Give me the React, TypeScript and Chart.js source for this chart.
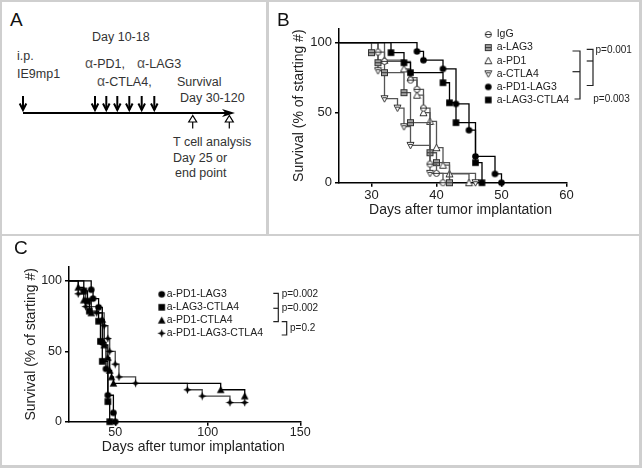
import React, { useEffect, useRef } from 'react';
import { Chart, registerables } from 'chart.js';
Chart.register(...registerables);

const FONT = '"Liberation Sans", Arial, Helvetica, sans-serif';

// ---------- Panel B data (days, % surviving) ----------
const B_X_TICKS = [30, 40, 50, 60];
const Y_TICKS = [0, 50, 100];
const B_LABELS = ['IgG', 'a-LAG3', 'a-PD1', 'a-CTLA4', 'a-PD1-LAG3', 'a-LAG3-CTLA4'];
const IGG_DAYS = [25, 31, 32, 36, 37, 38, 39, 40, 41];
const IGG_SURV = [100, 93.3, 86.7, 73.3, 66.7, 53.3, 13.3, 6.7, 0];
const LAG3_DAYS = [25, 30, 31, 32, 35, 36, 39, 40, 42];
const LAG3_SURV = [100, 92.9, 85.7, 78.6, 64.3, 42.9, 21.4, 14.3, 0];
const PD1_DAYS = [25, 32, 35, 36, 37, 38, 39, 40, 41, 42, 45];
const PD1_SURV = [100, 87.5, 81.3, 75, 62.5, 50, 43.8, 25, 12.5, 6.3, 0];
const CTLA4_DAYS = [25, 31, 32, 34, 35, 36, 39, 46];
const CTLA4_SURV = [100, 80, 60, 53.3, 40, 26.7, 6.7, 0];
const PD1LAG3_DAYS = [25, 37, 38, 41, 43, 45, 46, 49, 50];
const PD1LAG3_SURV = [100, 93.8, 87.5, 81.3, 56.3, 37.5, 18.8, 6.3, 0];
const LAG3CTLA4_DAYS = [25, 33, 35, 36, 41, 42, 43, 46, 47];
const LAG3CTLA4_SURV = [100, 92.9, 85.7, 78.6, 71.4, 57.1, 42.9, 14.3, 0];
const B_PVALUES = ['p=0.001', 'p=0.003'];

// ---------- Panel C data ----------
const C_X_TICKS = [50, 100, 150];
const C_LABELS = ['a-PD1-LAG3', 'a-LAG3-CTLA4', 'a-PD1-CTLA4', 'a-PD1-LAG3-CTLA4'];
const PD1CTLA4_DAYS = [25, 30, 33, 37, 43, 44, 46, 47, 48, 49, 107, 120];
const PD1CTLA4_SURV = [100, 95.5, 86.4, 77.3, 72.7, 54.5, 45.5, 36.4, 31.8, 27.3, 22.7, 18.2];
const TRIPLE_DAYS = [25, 30, 34, 40, 44, 46, 47, 50, 52, 61, 89, 97, 112, 120];
const TRIPLE_SURV = [100, 90.9, 81.8, 77.3, 68.2, 59.1, 50, 40.9, 31.8, 27.3, 22.7, 18.2, 13.6, 13.6];
const C_PVALUES = ['p=0.002', 'p=0.002', 'p=0.2'];

const X_TITLE = 'Days after tumor implantation';
const Y_TITLE = 'Survival (% of starting #)';

function makeMarker(kind: string): HTMLCanvasElement {
  const c = document.createElement('canvas');
  c.width = 9;
  c.height = 9;
  const g = c.getContext('2d')!;
  g.lineWidth = 1;
  const m = 4.5;
  g.strokeStyle = '#333';
  g.fillStyle = '#fff';
  if (kind === 'igg') {
    g.beginPath(); g.arc(m, m, 3, 0, Math.PI * 2); g.fill(); g.stroke();
    g.beginPath(); g.moveTo(1, m); g.lineTo(8, m); g.stroke();
  } else if (kind === 'lag3') {
    g.fillStyle = '#a0a0a0';
    g.fillRect(1.5, 1.5, 6, 6); g.strokeRect(1.5, 1.5, 6, 6);
    g.beginPath(); g.moveTo(1.5, m); g.lineTo(7.5, m); g.stroke();
  } else if (kind === 'pd1') {
    g.beginPath(); g.moveTo(m, 1); g.lineTo(8, 7.5); g.lineTo(1, 7.5); g.closePath(); g.fill(); g.stroke();
  } else if (kind === 'ctla4') {
    g.beginPath(); g.moveTo(1, 1.5); g.lineTo(8, 1.5); g.lineTo(m, 8); g.closePath(); g.fill(); g.stroke();
    g.beginPath(); g.moveTo(2.5, 3.5); g.lineTo(6.5, 3.5); g.stroke();
  } else if (kind === 'pd1lag3') {
    g.fillStyle = '#000';
    g.beginPath(); g.arc(m, m, 3.3, 0, Math.PI * 2); g.fill();
  } else if (kind === 'lag3ctla4') {
    g.fillStyle = '#000';
    g.fillRect(1.2, 1.2, 6.6, 6.6);
  } else if (kind === 'pd1ctla4') {
    g.fillStyle = '#000';
    g.beginPath(); g.moveTo(m, 0.8); g.lineTo(8.3, 7.8); g.lineTo(0.7, 7.8); g.closePath(); g.fill();
  } else if (kind === 'triple') {
    g.fillStyle = '#000';
    g.beginPath();
    const pts = 8;
    for (let i = 0; i < pts; i++) {
      const r = i % 2 === 0 ? 4.2 : 1.6;
      const a = -Math.PI / 2 + (i * Math.PI) / 4;
      const px = m + r * Math.cos(a);
      const py = m + r * Math.sin(a);
      if (i === 0) g.moveTo(px, py); else g.lineTo(px, py);
    }
    g.closePath(); g.fill();
  }
  return c;
}

function km(label: string, days: number[], surv: number[], marker: HTMLCanvasElement, color: string, order: number) {
  return {
    label,
    data: days.map((d, i) => ({ x: d, y: surv[i] })),
    stepped: 'before',
    borderColor: color,
    borderWidth: 1.3,
    fill: false,
    clip: false,
    pointStyle: marker,
    pointRadius: (ctx: any) => (ctx.dataIndex === 0 ? 0 : 3),
    pointHoverRadius: 0,
    order,
  };
}

function axes(xMin: number, xMax: number, xTicks: number[], xHeight: number, yWidth: number, yTitlePad: number, tickSize: number, xPad: number) {
  const common = {
    border: { display: true, color: '#000', width: 1.5 },
    grid: { display: true, drawOnChartArea: false, drawTicks: true, tickLength: 4, color: '#000', lineWidth: 1.5 },
  };
  return {
    x: {
      type: 'linear',
      min: xMin,
      max: xMax,
      afterBuildTicks: (s: any) => { s.ticks = xTicks.map((v) => ({ value: v })); },
      afterFit: (s: any) => { s.height = xHeight; },
      ...common,
      ticks: { color: '#222', font: { size: tickSize, family: FONT }, padding: xPad, maxRotation: 0, autoSkip: false },
    },
    y: {
      type: 'linear',
      min: 0,
      max: 110,
      afterBuildTicks: (s: any) => { s.ticks = Y_TICKS.map((v) => ({ value: v })); },
      afterFit: (s: any) => { s.width = yWidth; },
      ...common,
      ticks: { color: '#222', font: { size: tickSize, family: FONT }, padding: 3, autoSkip: false },
      title: { display: true, text: Y_TITLE, color: '#222', font: { size: 14, family: FONT }, padding: { top: yTitlePad, bottom: 0 } },
    },
  };
}

function line(ctx: CanvasRenderingContext2D, pts: number[]) {
  ctx.beginPath();
  ctx.moveTo(pts[0], pts[1]);
  for (let i = 2; i < pts.length; i += 2) ctx.lineTo(pts[i], pts[i + 1]);
  ctx.stroke();
}

export default function App() {
  const bRef = useRef<HTMLCanvasElement>(null);
  const cRef = useRef<HTMLCanvasElement>(null);

  useEffect(() => {
    Chart.defaults.font.family = FONT;
    const mk = {
      igg: makeMarker('igg'),
      lag3: makeMarker('lag3'),
      pd1: makeMarker('pd1'),
      ctla4: makeMarker('ctla4'),
      pd1lag3: makeMarker('pd1lag3'),
      lag3ctla4: makeMarker('lag3ctla4'),
      pd1ctla4: makeMarker('pd1ctla4'),
      triple: makeMarker('triple'),
    };
    const bMarkers = [mk.igg, mk.lag3, mk.pd1, mk.ctla4, mk.pd1lag3, mk.lag3ctla4];
    const cMarkers = [mk.pd1lag3, mk.lag3ctla4, mk.pd1ctla4, mk.triple];

    const decoB = {
      id: 'decoB',
      afterDraw(chart: any) {
        const ctx: CanvasRenderingContext2D = chart.ctx;
        ctx.save();
        ctx.fillStyle = '#222';
        ctx.font = `14px ${FONT}`;
        ctx.textAlign = 'center';
        ctx.textBaseline = 'middle';
        ctx.fillText(X_TITLE, 192.5, 210.5);
        ctx.textAlign = 'left';
        ctx.font = `10.5px ${FONT}`;
        B_LABELS.forEach((lab, i) => {
          const y = 34.5 + i * 13.1;
          const m = bMarkers[i];
          ctx.drawImage(m, 220.3 - m.width / 2, y - m.height / 2);
          ctx.fillText(lab, 228.7, y);
        });
        ctx.strokeStyle = '#222';
        ctx.lineWidth = 1.2;
        line(ctx, [304.5, 51, 312, 51, 312, 99, 306.5, 99]);
        line(ctx, [304.5, 71.7, 312, 71.7]);
        line(ctx, [318.7, 49.3, 325, 49.3, 325, 85.5, 318.7, 85.5]);
        line(ctx, [318.7, 61, 325, 61]);
        ctx.font = `10px ${FONT}`;
        ctx.fillText(B_PVALUES[0], 327.5, 50);
        ctx.fillText(B_PVALUES[1], 325.3, 99.3);
        ctx.restore();
      },
    };

    const decoC = {
      id: 'decoC',
      afterDraw(chart: any) {
        const ctx: CanvasRenderingContext2D = chart.ctx;
        ctx.save();
        ctx.fillStyle = '#222';
        ctx.font = `14px ${FONT}`;
        ctx.textAlign = 'center';
        ctx.textBaseline = 'middle';
        ctx.fillText(X_TITLE, 191.3, 211);
        ctx.textAlign = 'left';
        ctx.font = `10.5px ${FONT}`;
        C_LABELS.forEach((lab, i) => {
          const y = 58.3 + i * 13;
          const m = cMarkers[i];
          ctx.drawImage(m, 159.7 - m.width / 2, y - m.height / 2);
          ctx.fillText(lab, 164.7, y);
        });
        ctx.strokeStyle = '#222';
        ctx.lineWidth = 1.2;
        line(ctx, [271.3, 57.3, 276.3, 57.3, 276.3, 85.7, 271.3, 85.7]);
        line(ctx, [271.3, 72.3, 276.3, 72.3]);
        line(ctx, [279.7, 85.7, 284.7, 85.7, 284.7, 99, 279.7, 99]);
        ctx.font = `10px ${FONT}`;
        ctx.fillText(C_PVALUES[0], 279.7, 58.3);
        ctx.fillText(C_PVALUES[1], 279.7, 72.3);
        ctx.fillText(C_PVALUES[2], 288, 92.3);
        ctx.restore();
      },
    };

    const bChart = new Chart(bRef.current!, {
      type: 'line',
      data: {
        datasets: [
          km(B_LABELS[4], PD1LAG3_DAYS, PD1LAG3_SURV, mk.pd1lag3, '#000', 0),
          km(B_LABELS[5], LAG3CTLA4_DAYS, LAG3CTLA4_SURV, mk.lag3ctla4, '#000', 0),
          km(B_LABELS[0], IGG_DAYS, IGG_SURV, mk.igg, '#555', 1),
          km(B_LABELS[1], LAG3_DAYS, LAG3_SURV, mk.lag3, '#555', 1),
          km(B_LABELS[2], PD1_DAYS, PD1_SURV, mk.pd1, '#555', 1),
          km(B_LABELS[3], CTLA4_DAYS, CTLA4_SURV, mk.ctla4, '#555', 1),
        ] as any,
      },
      options: {
        responsive: false,
        animation: false,
        events: [],
        layout: { padding: { left: 0, top: 28.7, right: 73.5, bottom: 0 } },
        plugins: { legend: { display: false }, tooltip: { enabled: false } },
        scales: axes(25, 60, B_X_TICKS, 51.3, 71, 22.6, 13, 1) as any,
      },
      plugins: [decoB],
    });

    const cChart = new Chart(cRef.current!, {
      type: 'line',
      data: {
        datasets: [
          km(C_LABELS[0], PD1LAG3_DAYS, PD1LAG3_SURV, mk.pd1lag3, '#000', 0),
          km(C_LABELS[1], LAG3CTLA4_DAYS, LAG3CTLA4_SURV, mk.lag3ctla4, '#000', 0),
          km(C_LABELS[2], PD1CTLA4_DAYS, PD1CTLA4_SURV, mk.pd1ctla4, '#000', 1),
          km(C_LABELS[3], TRIPLE_DAYS, TRIPLE_SURV, mk.triple, '#444', 2),
        ] as any,
      },
      options: {
        responsive: false,
        animation: false,
        events: [],
        layout: { padding: { left: 0, top: 30.9, right: 337.75, bottom: 0 } },
        plugins: { legend: { display: false }, tooltip: { enabled: false } },
        scales: axes(25, 150, C_X_TICKS, 43.3, 67, 20.6, 12.5, -1) as any,
      },
      plugins: [decoC],
    });

    return () => {
      bChart.destroy();
      cChart.destroy();
    };
  }, []);

  const txt = { fontFamily: FONT, fontSize: 12.5, fill: '#333' } as any;
  const alpha = { fontSize: 14, fill: '#555' } as any;
  const downX = [23, 95, 106.3, 117.3, 129.3, 141.7, 154.3];
  const upX = [192.7, 229.3];
  const border = '#cfcfcf';
  const label = (t: string, left: number, top: number) => (
    <div style={{ position: 'absolute', left, top, fontFamily: FONT, fontSize: 19, lineHeight: '19px', color: '#111' }}>{t}</div>
  );

  return (
    <div style={{ position: 'fixed', left: 0, top: 0, width: 642, height: 468, background: '#fff', overflow: 'hidden' }}>
      <svg width={266} height={234} style={{ position: 'absolute', left: 0, top: 0 }}>
        <text x={92} y={41} style={txt}>Day 10-18</text>
        <text x={17} y={59.5} style={txt}>i.p.</text>
        <text x={17} y={77.5} style={txt}>IE9mp1</text>
        <text x={85} y={68.3} style={txt}><tspan style={alpha}>α</tspan>-PD1,</text>
        <text x={137} y={68.3} style={txt}><tspan style={alpha}>α</tspan>-LAG3</text>
        <text x={97} y={85.7} style={txt}><tspan style={alpha}>α</tspan>-CTLA4,</text>
        <text x={177} y={86.3} style={txt}>Survival</text>
        <text x={180} y={102.3} style={txt}>Day 30-120</text>
        <text x={173} y={145.7} style={txt}>T cell analysis</text>
        <text x={173} y={161.7} style={txt}>Day 25 or</text>
        <text x={175} y={177.3} style={txt}>end point</text>
        <line x1={23} y1={113} x2={230} y2={113} stroke="#000" strokeWidth={2} />
        <polygon points="235,113 222,109 225.5,113 222,117" fill="#000" />
        {downX.map((x) => (
          <g key={x}>
            <line x1={x} y1={96} x2={x} y2={110} stroke="#000" strokeWidth={2} />
            <polyline points={`${x - 3.3},103.5 ${x},110 ${x + 3.3},103.5`} fill="none" stroke="#000" strokeWidth={2} />
          </g>
        ))}
        {upX.map((x) => (
          <g key={x}>
            <polygon points={`${x},115.5 ${x - 4},122 ${x + 4},122`} fill="#fff" stroke="#000" strokeWidth={1.2} />
            <line x1={x} y1={122} x2={x} y2={128.5} stroke="#000" strokeWidth={1.2} />
          </g>
        ))}
      </svg>
      <canvas ref={bRef} width={372} height={234} style={{ position: 'absolute', left: 268, top: 0, display: 'block' }} />
      <canvas ref={cRef} width={636} height={229} style={{ position: 'absolute', left: 2, top: 236, display: 'block' }} />
      {label('A', 10, 9.5)}
      {label('B', 277, 9.5)}
      {label('C', 14, 237.5)}
      <div style={{ position: 'absolute', left: 0, top: 0, width: 642, height: 2, background: border }} />
      <div style={{ position: 'absolute', left: 0, top: 0, width: 2, height: 468, background: border }} />
      <div style={{ position: 'absolute', left: 639, top: 0, width: 3, height: 468, background: border }} />
      <div style={{ position: 'absolute', left: 0, top: 465, width: 642, height: 3, background: border }} />
      <div style={{ position: 'absolute', left: 266, top: 0, width: 2.5, height: 235, background: border }} />
      <div style={{ position: 'absolute', left: 0, top: 234.3, width: 642, height: 2, background: border }} />
    </div>
  );
}
